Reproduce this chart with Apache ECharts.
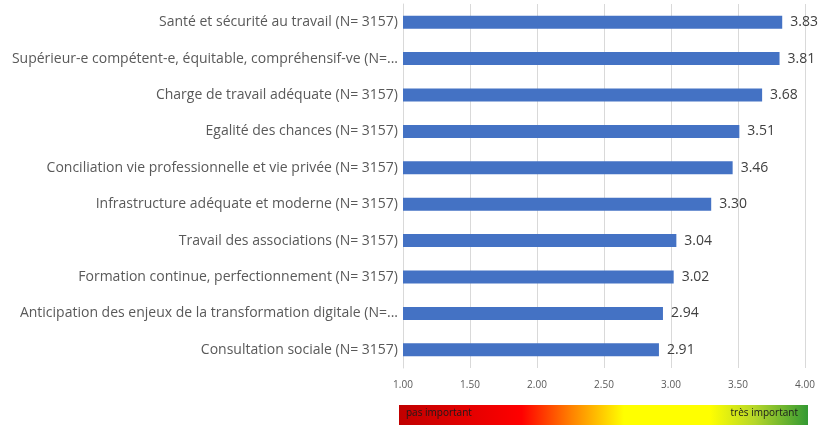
<!DOCTYPE html>
<html><head><meta charset="utf-8">
<script src="https://cdn.jsdelivr.net/npm/echarts@6/dist/echarts.min.js"></script>
<style>html,body{margin:0;padding:0;background:#fff}#c{width:820px;height:427px}</style>
</head><body><div id="c"></div>
<script>
const categories = [
  "Santé et sécurité au travail (N= 3157)",
  "Supérieur-e compétent-e, équitable, compréhensif-ve (N=...",
  "Charge de travail adéquate (N= 3157)",
  "Egalité des chances (N= 3157)",
  "Conciliation vie professionnelle et vie privée (N= 3157)",
  "Infrastructure adéquate et moderne (N= 3157)",
  "Travail des associations (N= 3157)",
  "Formation continue, perfectionnement (N= 3157)",
  "Anticipation des enjeux de la transformation digitale (N=...",
  "Consultation sociale (N= 3157)"
];
const values = [3.83, 3.81, 3.68, 3.51, 3.46, 3.30, 3.04, 3.02, 2.94, 2.91];
const tickMin = 1, tickMax = 4, tickStep = 0.5;
const legendLow = "pas important", legendHigh = "très important";

const chart = echarts.init(document.getElementById('c'));
const font = '"Open Sans", sans-serif';
chart.setOption({
  animation: false,
  grid: {left: 403, right: 15, top: 4, bottom: 59, containLabel: false},
  xAxis: {
    type: 'value', min: tickMin, max: tickMax, interval: tickStep,
    axisLine: {show: false},
    axisTick: {show: false},
    splitLine: {show: true, lineStyle: {color: '#d9d9d9', width: 1}},
    axisLabel: {color: '#595959', fontSize: 10, fontFamily: font, margin: 12,
      formatter: v => v.toFixed(2)}
  },
  yAxis: {
    type: 'category', data: categories, inverse: true,
    axisLine: {show: true, lineStyle: {color: '#d9d9d9'}},
    axisTick: {show: false},
    axisLabel: {color: '#595959', fontSize: 14, fontFamily: font, margin: 5}
  },
  series: [{
    type: 'bar', data: values, barWidth: 13,
    itemStyle: {color: '#4472c4'},
    label: {show: true, position: 'right', distance: 8, color: '#404040', fontSize: 14,
      fontFamily: font, formatter: p => p.value.toFixed(2)}
  }],
  graphic: [
    {type: 'rect', left: 399, top: 405, shape: {width: 409, height: 20},
      style: {fill: new echarts.graphic.LinearGradient(0, 0, 1, 0, [
        {offset: 0, color: '#c00000'},
        {offset: 0.30, color: '#ff0000'},
        {offset: 0.42, color: '#ff8000'},
        {offset: 0.55, color: '#ffff00'},
        {offset: 0.76, color: '#ffff00'},
        {offset: 0.87, color: '#b5d62a'},
        {offset: 1, color: '#339933'}
      ])}},
    {type: 'text', left: 406, top: 408, style: {text: legendLow, fontSize: 10, fill: '#1a1a1a', fontFamily: font}},
    {type: 'text', right: 22, top: 408, style: {text: legendHigh, fontSize: 10, fill: '#1a1a1a', fontFamily: font}}
  ]
});
</script></body></html>
